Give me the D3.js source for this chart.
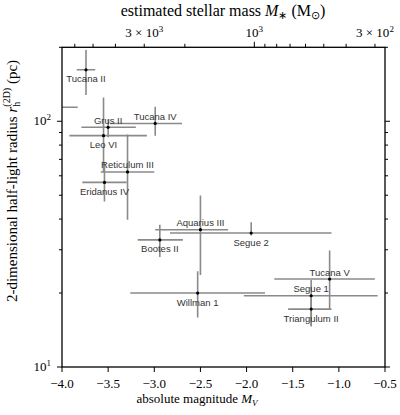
<!DOCTYPE html>
<html>
<head>
<meta charset="utf-8">
<script src="https://cdn.jsdelivr.net/npm/d3@7.9.0/dist/d3.min.js"></script>
<style>
  body { margin: 0; background: #fff; }
  svg text.axis { font-family: "Liberation Serif", "Times New Roman", serif; font-size: 13px; fill: #000; }
  svg text.title { font-family: "Liberation Serif", "Times New Roman", serif; font-size: 16px; fill: #000; }
  svg text.lab { font-family: "Liberation Sans", Arial, sans-serif; font-size: 9.5px; fill: #333; }
</style>
</head>
<body>
<svg id="chart" width="400" height="415"></svg>
<script>
// galaxy data
const names = ['Tucana II', 'Grus II', 'Tucana IV', 'Leo VI', 'Reticulum III', 'Eridanus IV',
  'Aquarius III', 'Bootes II', 'Segue 2', 'Willman 1', 'Tucana V', 'Segue 1', 'Triangulum II', ''];
const absMag = [-3.74, -3.50, -2.99, -3.55, -3.29, -3.54, -2.50, -2.94, -1.95, -2.53, -1.10, -1.30, -1.30, -4.30];
const absMagLo = [-3.84, -3.79, -3.48, -3.92, -3.58, -3.78, -2.99, -3.18, -2.83, -3.26, -1.70, -2.03, -1.55, -4.70];
const absMagHi = [-3.64, -3.20, -2.70, -3.08, -3.00, -3.30, -2.20, -2.69, -1.08, -1.80, -0.61, -0.58, -1.08, -3.83];
const radius = [162, 94.5, 98, 87.4, 62.2, 56.4, 36.2, 32.9, 35.1, 20.0, 22.8, 19.5, 17.2, 114];
const radiusLo = [128, 86, 87.4, 62, 39.7, 47.1, 23.7, 28.0, 34.3, 15.9, 17.1, 14.6, 14.8, 100];
const radiusHi = [195, 102, 114.5, 125, 88.3, 68, 49.9, 37.9, 38.8, 24.5, 29.8, 22.6, 19.7, 130];
const labelSide = ['below', 'above', 'above', 'below', 'above', 'below',
  'above', 'below', 'below', 'below', 'above', 'above', 'below', 'none'];

const xTicks = [-4.0, -3.5, -3.0, -2.5, -2.0, -1.5, -1.0, -0.5];
const yMinorTicks = [20, 30, 40, 50, 60, 70, 80, 90, 200];
const yMajorTicks = [10, 100];
const massTicks = [6000, 5000, 4000, 3000, 2000, 1000, 900, 800, 700, 600, 500, 400, 300];
const massLabels = { 3000: ['3 \u00d7 10', '3'], 1000: ['10', '3'], 300: ['3 \u00d7 10', '2'] };
// M_V at which the stellar mass equals 10^3 Msun
const magAt1000 = -1.916;

const svg = d3.select('#chart');
const mLeft = 62, mRight = 385, mTop = 47.3, mBottom = 367;

const x = d3.scaleLinear().domain([-4, -0.5]).range([mLeft, mRight]);
const y = d3.scaleLog().domain([10, 200]).range([mBottom, mTop]);
const massOf = (m) => 1000 * Math.pow(10, -0.4 * (m - magAt1000));
const xMass = d3.scaleLog().domain([massOf(-4), massOf(-0.5)]).range([mLeft, mRight]);

const data = names.map((n, i) => ({
  name: n, mv: absMag[i], lo: absMagLo[i], hi: absMagHi[i],
  r: radius[i], rlo: radiusLo[i], rhi: radiusHi[i], side: labelSide[i]
}));

svg.append('defs').append('clipPath').attr('id', 'clip')
  .append('rect').attr('x', mLeft).attr('y', mTop).attr('width', mRight - mLeft).attr('height', mBottom - mTop);

const plot = svg.append('g').attr('clip-path', 'url(#clip)');

// error bars
plot.selectAll('line.xerr').data(data).join('line')
  .attr('class', 'xerr')
  .attr('x1', d => x(d.lo)).attr('x2', d => x(d.hi))
  .attr('y1', d => y(d.r)).attr('y2', d => y(d.r))
  .attr('stroke', '#8a8a8a').attr('stroke-width', 1.6);
plot.selectAll('line.yerr').data(data).join('line')
  .attr('class', 'yerr')
  .attr('x1', d => x(d.mv)).attr('x2', d => x(d.mv))
  .attr('y1', d => y(d.rlo)).attr('y2', d => y(d.rhi))
  .attr('stroke', '#8a8a8a').attr('stroke-width', 1.6);

plot.selectAll('circle').data(data).join('circle')
  .attr('cx', d => x(d.mv)).attr('cy', d => y(d.r)).attr('r', 1.6).attr('fill', '#000');

// labels
svg.selectAll('text.lab').data(data.filter(d => d.side !== 'none')).join('text')
  .attr('class', 'lab')
  .attr('x', d => x(d.mv))
  .attr('y', d => y(d.r) + (d.side === 'above' ? -3.5 : 12.5))
  .attr('text-anchor', 'middle')
  .text(d => d.name);

// frame
svg.append('rect').attr('x', mLeft).attr('y', mTop).attr('width', mRight - mLeft).attr('height', mBottom - mTop)
  .attr('fill', 'none').attr('stroke', '#000').attr('stroke-width', 1.3);

const ticks = svg.append('g').attr('stroke', '#000').attr('stroke-width', 1);
// bottom ticks
xTicks.forEach(t => {
  ticks.append('line').attr('x1', x(t)).attr('x2', x(t)).attr('y1', mBottom).attr('y2', mBottom + 5);
  svg.append('text').attr('class', 'axis').attr('x', x(t)).attr('y', 388).attr('text-anchor', 'middle')
    .text(d3.format('.1f')(t).replace('-', '\u2212'));
});
// y ticks, both sides
yMinorTicks.forEach(t => {
  ticks.append('line').attr('x1', mLeft - 3).attr('x2', mLeft).attr('y1', y(t)).attr('y2', y(t));
  ticks.append('line').attr('x1', mRight).attr('x2', mRight + 3).attr('y1', y(t)).attr('y2', y(t));
});
yMajorTicks.forEach(t => {
  ticks.append('line').attr('x1', mLeft - 5).attr('x2', mLeft).attr('y1', y(t)).attr('y2', y(t));
  ticks.append('line').attr('x1', mRight).attr('x2', mRight + 5).attr('y1', y(t)).attr('y2', y(t));
  const txt = svg.append('text').attr('class', 'axis').attr('x', mLeft - 11).attr('y', y(t) + 4)
    .attr('text-anchor', 'end');
  txt.append('tspan').text('10');
  txt.append('tspan').attr('dy', -5).attr('font-size', '9px').text(Math.round(Math.log10(t)));
});
// top mass axis
massTicks.forEach(m => {
  const major = m === 1000;
  ticks.append('line').attr('x1', xMass(m)).attr('x2', xMass(m))
    .attr('y1', mTop).attr('y2', mTop - (major ? 5.5 : 3.5));
  if (massLabels[m]) {
    const txt = svg.append('text').attr('class', 'axis').attr('x', xMass(m)).attr('y', 37)
      .attr('text-anchor', 'middle');
    txt.append('tspan').text(massLabels[m][0]);
    txt.append('tspan').attr('dy', -5).attr('font-size', '9px').text(massLabels[m][1]);
  }
});

// axis titles
const xt = svg.append('text').attr('class', 'axis').attr('x', 197).attr('y', 403).attr('text-anchor', 'middle');
xt.append('tspan').text('absolute magnitude ');
xt.append('tspan').attr('font-style', 'italic').text('M');
xt.append('tspan').attr('dy', 3).attr('font-size', '9px').attr('font-style', 'italic').text('V');

const tt = svg.append('text').attr('class', 'title').attr('x', 223).attr('y', 16).attr('text-anchor', 'middle');
tt.append('tspan').text('estimated stellar mass ');
tt.append('tspan').attr('font-style', 'italic').text('M');
tt.append('tspan').attr('dy', 3).attr('font-size', '11px').text('\u2217');
tt.append('tspan').attr('dy', -3).text(' (M');
tt.append('tspan').attr('dy', 3).attr('font-size', '11px').text('\u2299');
tt.append('tspan').attr('dy', -3).text(')');

const yt = svg.append('text').attr('class', 'title').attr('transform', 'translate(17,181) rotate(-90)')
  .attr('text-anchor', 'middle').style('font-size', '15px');
yt.append('tspan').text('2-dimensional half-light radius ');
yt.append('tspan').attr('font-style', 'italic').text('r');
yt.append('tspan').attr('dy', 3).attr('font-size', '10px').text('h');
yt.append('tspan').attr('dy', -10).attr('dx', -5).attr('font-size', '10px').text('(2D)');
yt.append('tspan').attr('dy', 7).text(' (pc)');
</script>
</body>
</html>
